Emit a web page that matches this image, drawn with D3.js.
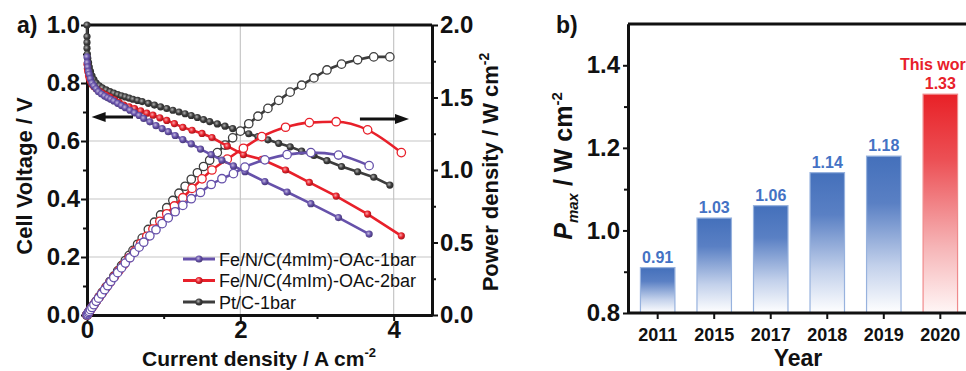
<!DOCTYPE html>
<html lang="en">
<head>
<meta charset="UTF-8">
<title>Fuel cell polarization and Pmax</title>
<script src="https://d3js.org/d3.v7.min.js"></script>
<style>
    body { margin: 0; background: #fff; }
    svg { display: block; font-family: "Liberation Sans", Arial, sans-serif; }
    .axis text { font-weight: bold; font-size: 24px; fill: #111; }
    .axis path, .axis line { stroke: #111; }
    .axis path { stroke-width: 3; }
    .axis line { stroke-width: 2; }
    .lbl { font-weight: bold; fill: #111; }
</style>
</head>
<body>
<svg id="chart" width="966" height="371"></svg>
<script>
// ---- panel a) data ----
var ptJ = [0, 0, 0, 0, 0.005, 0.01, 0.02, 0.03, 0.045, 0.065, 0.09, 0.12, 0.16, 0.2, 0.25, 0.3, 0.35, 0.4, 0.45, 0.5,
    0.55, 0.6, 0.66, 0.72, 0.8, 0.88, 0.96, 1.04, 1.12, 1.2, 1.28, 1.36, 1.44, 1.52, 1.6, 1.7, 1.8, 1.9, 2.0, 2.11,
    2.23, 2.36, 2.5, 2.65, 2.8, 2.96, 3.13, 3.32, 3.53, 3.74, 3.95];
var ptV = [1.0, 0.96, 0.94, 0.92, 0.9, 0.885, 0.87, 0.855, 0.84, 0.825, 0.812, 0.8, 0.79, 0.783, 0.776, 0.77, 0.765, 0.76, 0.756, 0.752,
    0.748, 0.744, 0.74, 0.736, 0.73, 0.724, 0.718, 0.712, 0.706, 0.7, 0.694, 0.688, 0.681, 0.674, 0.667, 0.659, 0.651, 0.643, 0.634, 0.625,
    0.615, 0.604, 0.592, 0.58, 0.565, 0.55, 0.532, 0.512, 0.494, 0.475, 0.448];
var ptP = [0, 0, 0, 0, 0.005, 0.009, 0.017, 0.026, 0.038, 0.054, 0.073, 0.096, 0.126, 0.157, 0.194, 0.231, 0.268, 0.304, 0.34, 0.376,
    0.411, 0.446, 0.488, 0.53, 0.59, 0.64, 0.69, 0.74, 0.79, 0.84, 0.888, 0.936, 0.981, 1.024, 1.067, 1.12, 1.172, 1.222, 1.268, 1.319,
    1.371, 1.425, 1.48, 1.537, 1.585, 1.635, 1.69, 1.73, 1.76, 1.78, 1.78];

var fe2J = [0, 0.005, 0.01, 0.02, 0.03, 0.045, 0.065, 0.09, 0.12, 0.16, 0.2, 0.25, 0.3, 0.36, 0.42, 0.48, 0.55, 0.62,
    0.7, 0.78, 0.86, 0.95, 1.04, 1.14, 1.25, 1.37, 1.5, 1.63, 1.83, 2.04, 2.28, 2.59, 2.9, 3.25, 3.66, 4.1];
var fe2V = [0.865, 0.85, 0.84, 0.825, 0.815, 0.805, 0.795, 0.787, 0.78, 0.772, 0.765, 0.758, 0.751, 0.742, 0.733, 0.724, 0.718, 0.712,
    0.704, 0.696, 0.689, 0.68, 0.671, 0.66, 0.647, 0.637, 0.626, 0.612, 0.582, 0.553, 0.537, 0.5, 0.457, 0.41, 0.348, 0.273];
var fe2P = [0, 0.004, 0.008, 0.017, 0.024, 0.036, 0.052, 0.071, 0.094, 0.124, 0.153, 0.19, 0.225, 0.267, 0.308, 0.348, 0.395, 0.441,
    0.493, 0.543, 0.593, 0.646, 0.698, 0.752, 0.809, 0.873, 0.939, 1.0, 1.075, 1.15, 1.23, 1.295, 1.327, 1.333, 1.277, 1.12];

var fe1J = [0, 0.005, 0.01, 0.02, 0.03, 0.045, 0.065, 0.09, 0.12, 0.15, 0.19, 0.23, 0.27, 0.31, 0.35, 0.4, 0.45, 0.5, 0.56,
    0.62, 0.68, 0.74, 0.82, 0.9, 0.98, 1.06, 1.15, 1.25, 1.36, 1.48, 1.62, 1.76, 1.91, 2.06, 2.32, 2.61, 2.92, 3.28, 3.68];
var fe1V = [0.89, 0.87, 0.855, 0.84, 0.83, 0.815, 0.8, 0.79, 0.78, 0.77, 0.762, 0.755, 0.749, 0.744, 0.738, 0.73, 0.722, 0.715, 0.706,
    0.697, 0.688, 0.678, 0.666, 0.653, 0.643, 0.632, 0.619, 0.605, 0.59, 0.572, 0.553, 0.534, 0.514, 0.494, 0.46, 0.424, 0.384, 0.336, 0.279];
var fe1P = [0, 0.004, 0.009, 0.017, 0.025, 0.037, 0.052, 0.071, 0.094, 0.116, 0.145, 0.174, 0.202, 0.231, 0.258, 0.292, 0.325, 0.358, 0.395,
    0.432, 0.468, 0.502, 0.546, 0.588, 0.63, 0.67, 0.712, 0.756, 0.802, 0.845, 0.9, 0.94, 0.975, 1.02, 1.07, 1.106, 1.12, 1.103, 1.03];

var seriesNames = ["Fe/N/C(4mIm)-OAc-1bar", "Fe/N/C(4mIm)-OAc-2bar", "Pt/C-1bar"];
var seriesColors = ["#6651aa", "#e8202a", "#3d3d3d"];

// ---- panel b) data ----
var years = ["2011", "2015", "2017", "2018", "2019", "2020"];
var pmax = [0.91, 1.03, 1.06, 1.14, 1.18, 1.33];

var svg = d3.select("#chart");
var defs = svg.append("defs");

function zip(J, V, P) {
    return J.map(function(j, i) { return {j: j, v: V[i], p: P[i]}; });
}
var series = [
    {name: seriesNames[0], color: seriesColors[0], data: zip(fe1J, fe1V, fe1P)},
    {name: seriesNames[1], color: seriesColors[1], data: zip(fe2J, fe2V, fe2P)},
    {name: seriesNames[2], color: seriesColors[2], data: zip(ptJ, ptV, ptP)}
];

// sphere-looking markers
series.forEach(function(s, i) {
    var g = defs.append("radialGradient").attr("id", "ball" + i)
        .attr("cx", "0.4").attr("cy", "0.4").attr("r", "0.6");
    g.append("stop").attr("offset", "0%").attr("stop-color", d3.interpolateRgb(s.color, "#fff")(0.6));
    g.append("stop").attr("offset", "55%").attr("stop-color", s.color);
    g.append("stop").attr("offset", "100%").attr("stop-color", d3.interpolateRgb(s.color, "#000")(0.3));
});

// ================= panel a =================
var x = d3.scaleLinear().domain([0, 4.5]).range([87, 432]);
var yV = d3.scaleLinear().domain([0, 1]).range([315, 25]);
var yP = d3.scaleLinear().domain([0, 2]).range([315, 25]);

var a = svg.append("g");

// grid
a.selectAll(".hgrid").data([0.2, 0.4, 0.6, 0.8]).enter().append("line")
    .attr("x1", x(0)).attr("x2", x(4.5)).attr("y1", d => yV(d)).attr("y2", d => yV(d))
    .attr("stroke", "#c6c6c6").attr("stroke-width", 1.2);
a.selectAll(".vgrid").data([2, 4]).enter().append("line")
    .attr("x1", d => x(d)).attr("x2", d => x(d)).attr("y1", yV(0)).attr("y2", yV(1))
    .attr("stroke", "#c6c6c6").attr("stroke-width", 1.2);

// top frame
a.append("line").attr("x1", x(0)).attr("x2", x(4.5)).attr("y1", yV(1)).attr("y2", yV(1))
    .attr("stroke", "#111").attr("stroke-width", 3);

// axes
a.append("g").attr("class", "axis").attr("transform", "translate(0," + yV(0) + ")")
    .call(d3.axisBottom(x).tickValues([1, 3]).tickSize(4).tickSizeOuter(0).tickFormat(""));
a.append("g").attr("class", "axis").attr("transform", "translate(0," + yV(0) + ")")
    .call(d3.axisBottom(x).tickValues([0, 2, 4]).tickSize(6).tickPadding(0).tickSizeOuter(0).tickFormat(d3.format("d")));
a.append("g").attr("class", "axis").attr("transform", "translate(" + x(0) + ",0)")
    .call(d3.axisLeft(yV).tickValues([0.1, 0.3, 0.5, 0.7, 0.9]).tickSize(4).tickSizeOuter(0).tickFormat(""));
a.append("g").attr("class", "axis").attr("transform", "translate(" + x(0) + ",0)")
    .call(d3.axisLeft(yV).tickValues([0, 0.2, 0.4, 0.6, 0.8, 1.0]).tickSize(6).tickPadding(1).tickSizeOuter(0).tickFormat(d3.format(".1f")));
a.append("g").attr("class", "axis").attr("transform", "translate(" + x(4.5) + ",0)")
    .call(d3.axisRight(yP).tickValues([0.25, 0.75, 1.25, 1.75]).tickSize(4).tickSizeOuter(0).tickFormat(""));
a.append("g").attr("class", "axis").attr("transform", "translate(" + x(4.5) + ",0)")
    .call(d3.axisRight(yP).tickValues([0, 0.5, 1, 1.5, 2]).tickSize(6).tickPadding(2).tickSizeOuter(0).tickFormat(d3.format(".1f")));

var lineV = d3.line().x(d => x(d.j)).y(d => yV(d.v));
var lineP = d3.line().x(d => x(d.j)).y(d => yP(d.p)).curve(d3.curveMonotoneX);

// draw Pt first, Fe/N/C on top
[2, 1, 0].forEach(function(i) {
    var s = series[i];
    var g = a.append("g");
    g.append("path").datum(s.data).attr("d", lineV)
        .attr("fill", "none").attr("stroke", s.color).attr("stroke-width", 2.6);
    g.append("path").datum(s.data.filter((d, k) => k === 0 || d.j > s.data[k - 1].j)).attr("d", lineP)
        .attr("fill", "none").attr("stroke", s.color).attr("stroke-width", 2.6);
    g.selectAll(".pv").data(s.data).enter().append("circle")
        .attr("cx", d => x(d.j)).attr("cy", d => yV(d.v)).attr("r", 3.6)
        .attr("fill", "url(#ball" + i + ")");
    g.selectAll(".pp").data(s.data).enter().append("circle")
        .attr("cx", d => x(d.j)).attr("cy", d => yP(d.p)).attr("r", 4.2)
        .attr("fill", "#fff").attr("stroke", s.color).attr("stroke-width", 1.3);
});

// arrows
function arrow(x1, x2, y) {
    var dir = x2 > x1 ? 1 : -1;
    a.append("line").attr("x1", x1).attr("x2", x2 - dir * 8).attr("y1", y).attr("y2", y)
        .attr("stroke", "#111").attr("stroke-width", 3);
    a.append("path").attr("d", "M" + x2 + "," + y + "L" + (x2 - dir * 14) + "," + (y - 5) +
        "L" + (x2 - dir * 14) + "," + (y + 5) + "Z").attr("fill", "#111");
}
arrow(x(0.6), x(0.06), yV(0.683));
arrow(x(3.56), x(4.2), yP(1.352));

// legend
var leg = a.append("g");
series.forEach(function(s, i) {
    var yy = 259 + i * 21.5;
    leg.append("line").attr("x1", 183).attr("x2", 215).attr("y1", yy).attr("y2", yy)
        .attr("stroke", s.color).attr("stroke-width", 3);
    leg.append("circle").attr("cx", 199).attr("cy", yy).attr("r", 3.6).attr("fill", "url(#ball" + i + ")");
    leg.append("text").attr("x", 219).attr("y", yy + 6.5).attr("font-size", 18).attr("fill", "#111")
        .text(s.name);
});

// labels
svg.append("text").attr("class", "lbl").attr("x", 17).attr("y", 33).attr("font-size", 23).text("a)");
svg.append("text").attr("class", "lbl").attr("font-size", 22).attr("text-anchor", "middle")
    .attr("transform", "translate(32,176) rotate(-90)").text("Cell Voltage / V");
var pl = svg.append("text").attr("class", "lbl").attr("font-size", 22).attr("text-anchor", "middle")
    .attr("transform", "translate(498,172) rotate(-90)");
pl.append("tspan").text("Power density / W cm");
pl.append("tspan").attr("font-size", 14).attr("dy", -9).text("-2");
var xl = svg.append("text").attr("class", "lbl").attr("font-size", 21).attr("text-anchor", "middle")
    .attr("x", 259).attr("y", 366);
xl.append("tspan").text("Current density / A cm");
xl.append("tspan").attr("font-size", 13).attr("dy", -9).text("-2");

// ================= panel b =================
var xb = d3.scaleBand().domain(years).range([628, 970]).paddingInner(0.39).paddingOuter(0.22);
var yb = d3.scaleLinear().domain([0.8, 1.5]).range([313, 24]);

var b = svg.append("g");

var gb = defs.append("linearGradient").attr("id", "gBlue").attr("x1", 0).attr("y1", 0).attr("x2", 0).attr("y2", 1);
gb.append("stop").attr("offset", "0%").attr("stop-color", "#4470bb");
gb.append("stop").attr("offset", "30%").attr("stop-color", "#5a80c4");
gb.append("stop").attr("offset", "70%").attr("stop-color", "#c3d1eb");
gb.append("stop").attr("offset", "100%").attr("stop-color", "#ffffff");
var gr = defs.append("linearGradient").attr("id", "gRed").attr("x1", 0).attr("y1", 0).attr("x2", 0).attr("y2", 1);
gr.append("stop").attr("offset", "0%").attr("stop-color", "#e82127");
gr.append("stop").attr("offset", "30%").attr("stop-color", "#ec5055");
gr.append("stop").attr("offset", "70%").attr("stop-color", "#f6b5b7");
gr.append("stop").attr("offset", "100%").attr("stop-color", "#fff6f6");

var bars = years.map((y, i) => ({year: y, v: pmax[i], last: i === years.length - 1}));

b.selectAll(".bar").data(bars).enter().append("rect")
    .attr("x", d => xb(d.year)).attr("width", xb.bandwidth())
    .attr("y", d => yb(d.v)).attr("height", d => yb(0.8) - yb(d.v))
    .attr("fill", d => d.last ? "url(#gRed)" : "url(#gBlue)")
    .attr("stroke", d => d.last ? "#f08a8c" : "#97b2de").attr("stroke-width", 1.2);

b.selectAll(".val").data(bars).enter().append("text")
    .attr("x", d => xb(d.year) + xb.bandwidth() / 2).attr("y", d => yb(d.v) - 5)
    .attr("text-anchor", "middle").attr("font-weight", "bold").attr("font-size", 16)
    .attr("fill", d => d.last ? "#e8202a" : "#4472c4")
    .text(d => d3.format(".2f")(d.v));
b.append("text").attr("x", xb("2020") + xb.bandwidth() / 2 - 3).attr("y", 70)
    .attr("text-anchor", "middle").attr("font-weight", "bold").attr("font-size", 16)
    .attr("fill", "#e8202a").text("This work");

b.append("line").attr("x1", 628).attr("x2", 970).attr("y1", yb(1.5)).attr("y2", yb(1.5))
    .attr("stroke", "#111").attr("stroke-width", 3);
b.append("g").attr("class", "axis").attr("transform", "translate(628,0)")
    .call(d3.axisLeft(yb).tickValues([0.9, 1.1, 1.3]).tickSize(4).tickSizeOuter(0).tickFormat(""));
b.append("g").attr("class", "axis").attr("transform", "translate(628,0)")
    .call(d3.axisLeft(yb).tickValues([0.8, 1.0, 1.2, 1.4]).tickSize(5).tickPadding(3).tickSizeOuter(0).tickFormat(d3.format(".1f")));
var bx = b.append("g").attr("class", "axis").attr("transform", "translate(0," + yb(0.8) + ")")
    .call(d3.axisBottom(xb).tickSize(6).tickPadding(9).tickSizeOuter(0));
bx.selectAll("text").style("font-size", "18px");
bx.select(".domain").attr("d", "M628,0H970");

svg.append("text").attr("class", "lbl").attr("x", 556).attr("y", 33).attr("font-size", 23).text("b)");
svg.append("text").attr("class", "lbl").attr("x", 798).attr("y", 366).attr("font-size", 23)
    .attr("text-anchor", "middle").text("Year");
var yl = svg.append("text").attr("class", "lbl").attr("font-size", 25).attr("text-anchor", "middle")
    .attr("transform", "translate(572,166) rotate(-90)");
yl.append("tspan").attr("font-style", "italic").text("P");
yl.append("tspan").attr("font-style", "italic").attr("font-size", 15).attr("dy", 6).text("max");
yl.append("tspan").attr("dy", -6).text(" / W cm");
yl.append("tspan").attr("font-size", 15).attr("dy", -10).text("-2");
</script>
</body>
</html>
